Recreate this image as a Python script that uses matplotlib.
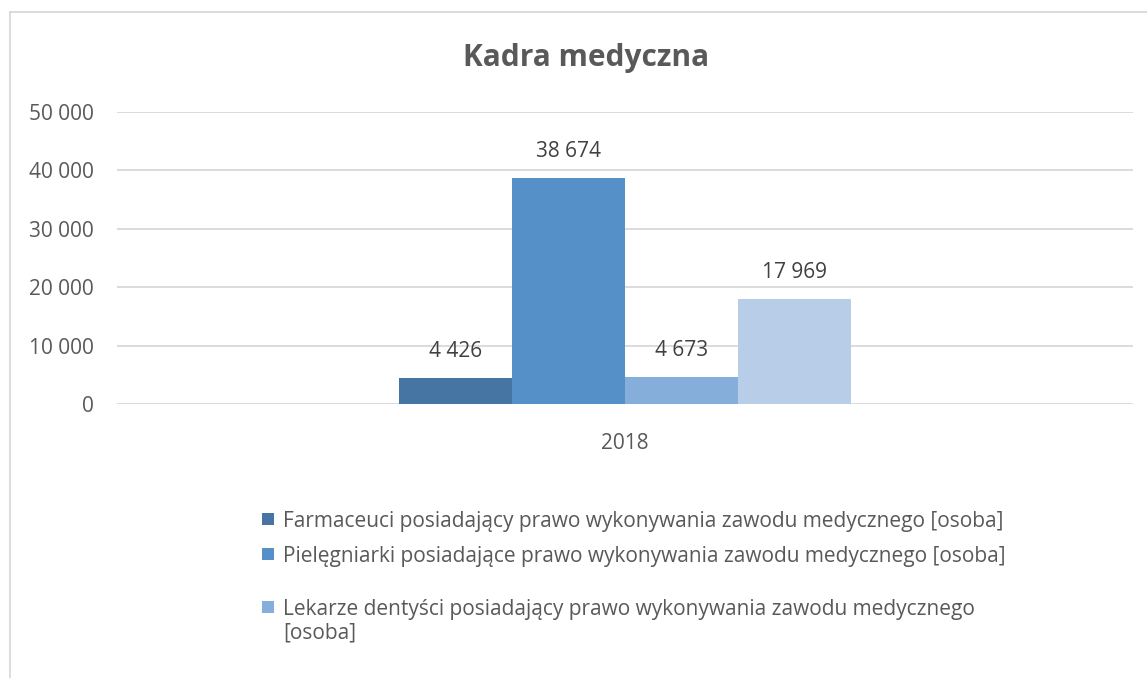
import numpy as np
import matplotlib
matplotlib.use("Agg")
import matplotlib.pyplot as plt
from matplotlib.lines import Line2D
from matplotlib.patches import Rectangle

plt.rcParams['font.family'] = ['Open Sans', 'DejaVu Sans']

# data
years = ['2018']
series = ['Farmaceuci posiadający prawo wykonywania zawodu medycznego [osoba]',
          'Pielęgniarki posiadające prawo wykonywania zawodu medycznego [osoba]',
          'Lekarze dentyści posiadający prawo wykonywania zawodu medycznego\n[osoba]',
          'Lekarze posiadający prawo wykonywania zawodu medycznego [osoba]']
values = [4426, 38674, 4673, 17969]
colors = ['#4675a4', '#5591c8', '#86aedb', '#b8cde8']
yticks = [0, 10000, 20000, 30000, 40000, 50000]

txt = '#595959'
W, H = 1147, 678
fs = 15

def fmt(v):
    return '{:,}'.format(v).replace(',', ' ')

fig = plt.figure(figsize=(W/100, H/100), dpi=100)
ax = fig.add_axes([117/W, 1 - 404/H, (1133-117)/W, (404-112)/H])

bw = 113/1016
offs = (np.arange(len(values)) - 1.5) * bw
for i, v in enumerate(values):
    ax.bar(0.5 + offs[i], v, width=bw, color=colors[i], zorder=3)
    ax.annotate(fmt(v), (0.5 + offs[i], v), xytext=(0, 19), textcoords='offset points',
                ha='center', va='center', fontsize=fs, color='#404040')

ax.set_xlim(0, 1)
ax.set_ylim(0, 50000)
ax.set_yticks(yticks)
ax.set_yticklabels([fmt(t) for t in yticks], fontsize=fs, color=txt)
ax.set_xticks([0.5])
ax.set_xticklabels(years, fontsize=fs, color=txt)
ax.tick_params(length=0)
ax.tick_params(axis='y', pad=17)
ax.tick_params(axis='x', pad=21)
ax.grid(axis='y', color='#d9d9d9', linewidth=1.3, zorder=0)
for s in ax.spines.values():
    s.set_visible(False)

fig.text(586/W, 1 - 58/H, 'Kadra medyczna', ha='center', va='center',
         fontsize=21.5, fontweight='bold', color=txt)

# legend (only the first three entries are visible in the cut-off chart)
leg_y = [519, 554, 607]
for i in range(3):
    fig.add_artist(Rectangle((262/W, 1 - (leg_y[i] + 6)/H), 12/W, 12/H,
                             transform=fig.transFigure, color=colors[i], lw=0))
    for k, line in enumerate(series[i].split('\n')):
        fig.text(283/W, 1 - (leg_y[i] + 23*k)/H, line, ha='left', va='center_baseline',
                 fontsize=fs, color=txt)

# chart border (top and left only visible)
fig.add_artist(Line2D([10/W, 10/W], [0, 1 - 12/H], color='#d9d9d9', lw=1.3))
fig.add_artist(Line2D([10/W, 1], [1 - 12/H, 1 - 12/H], color='#d9d9d9', lw=1.3))

fig.savefig('out.png', dpi=100)
